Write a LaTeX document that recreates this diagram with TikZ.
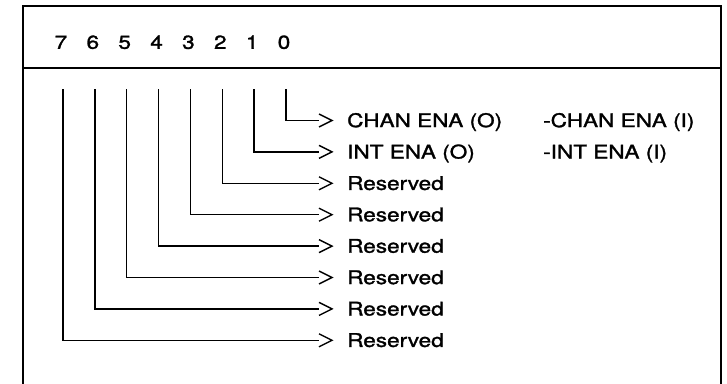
\documentclass[tikz,border=0pt]{standalone}
\usepackage{fontspec}
\setmainfont{TeX Gyre Heros}[FakeStretch=1.2,FakeBold=1.5]
\tikzset{
  frame/.style={line width=2pt},
  lead/.style={line width=1.4pt},
  bitnum/.style={inner sep=0pt, anchor=base},
  lbl/.style={inner sep=0pt, anchor=base west},
}
\begin{document}
\begin{tikzpicture}[x=1pt,y=-1pt,font=\fontsize{18.8}{22}\selectfont]
\useasboundingbox (0,0) rectangle (727,383);
% register frame, open at the bottom
\draw[frame] (22.5,395) -- (22.5,5.5) -- (720.5,5.5) -- (720.5,395);
\draw[frame] (22.5,68) -- (720.5,68);
% bit numbers, leaders and field names
\foreach \b/\txt in {0/CHAN ENA (O),1/INT ENA (O),2/Reserved,3/Reserved,4/Reserved,5/Reserved,6/Reserved,7/Reserved}{
  \pgfmathsetmacro{\bx}{286-31.86*\b}
  \pgfmathsetmacro{\ry}{120.5+31.4*\b}
  \node[bitnum] (d\b) at (\bx-2,48.8) {\b};
  \coordinate (t\b) at (\bx,89);
  \coordinate (e\b) at (319,\ry);
  \node[lbl] (l\b) at (347,\ry+6.6) {\txt};
  \draw[lead] (t\b) |- (e\b);
  \draw[lead,line join=miter] ([shift={(0,-6.5)}]e\b) -- ++(13,6.5) -- ++(-13,6.5);
}
\node[lbl] (n0) at (543,120.5+6.6) {-CHAN ENA (I)};
\node[lbl] (n1) at (543,151.9+6.6) {-INT ENA (I)};
\end{tikzpicture}
\end{document}
